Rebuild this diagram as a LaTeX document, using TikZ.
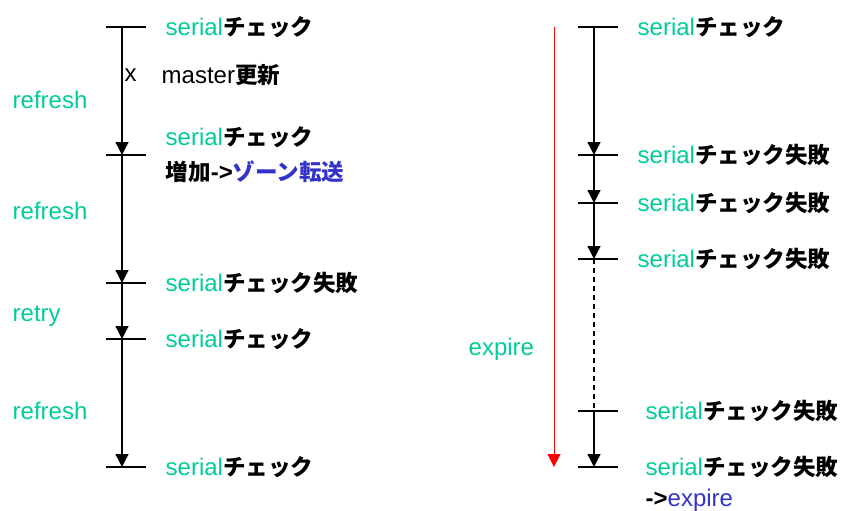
\documentclass[tikz,border=0pt]{standalone}
\usepackage{fontspec}
\setmainfont{Liberation Sans}
\newfontfamily\jpfont{Noto Sans CJK JP}[Scale=0.94]
\usetikzlibrary{arrows.meta}
\definecolor{zgreen}{RGB}{0,204,153}
\definecolor{zblue}{RGB}{51,51,204}
\newcommand{\jp}[1]{{\jpfont\bfseries #1}}
\newcommand{\ser}{\textcolor{zgreen}{serial}}

\begin{document}
\begin{tikzpicture}[x=1pt, y=-1pt, >={Triangle[width=13pt,length=13pt]}, line width=1.4pt,
  lbl/.style={anchor=west, inner sep=0pt, font=\fontsize{24}{28}\selectfont},
  phase/.style={lbl, text=zgreen}]
\useasboundingbox (0,0) rectangle (846,511);
% left time line
\coordinate (l0) at (122,27);
\coordinate (l1) at (122,155);
\coordinate (l2) at (122,283);
\coordinate (l3) at (122,339);
\coordinate (l4) at (122,467);
\foreach \t in {l0,l1,l2,l3,l4}
  \draw ([xshift=-16pt]\t.center) -- ([xshift=24pt]\t.center);
\draw[->] (l0) -- (l1);
\draw[->] (l1) -- (l2);
\draw[->] (l2) -- (l3);
\draw[->] (l3) -- (l4);
\node[lbl] (s0) at (165,27) {\ser\jp{チェック}};
\node[lbl] (xm) at (124,75) {x};
\node[lbl] (ms) at (161,75) {master\jp{更新}};
\node[lbl] (s1) at (165,137) {\ser\jp{チェック}};
\node[lbl] (zt) at (165,172) {\jp{増加}\textbf{->}\textcolor{zblue}{\jp{ゾーン転送}}};
\node[lbl] (s2) at (165,283) {\ser\jp{チェック失敗}};
\node[lbl] (s3) at (165,339) {\ser\jp{チェック}};
\node[lbl] (s4) at (165,467) {\ser\jp{チェック}};
\node[phase] (p0) at (12,100) {refresh};
\node[phase] (p1) at (12,211) {refresh};
\node[phase] (p2) at (12,316) {retry};
\node[phase] (p3) at (12,411) {refresh};
% right time line
\coordinate (r0) at (594,27);
\coordinate (r1) at (594,155);
\coordinate (r2) at (594,203);
\coordinate (r3) at (594,259);
\coordinate (r4) at (594,411);
\coordinate (r5) at (594,467);
\foreach \t in {r0,r1,r2,r3,r4,r5}
  \draw ([xshift=-16pt]\t.center) -- ([xshift=24pt]\t.center);
\draw[->] (r0) -- (r1);
\draw[->] (r1) -- (r2);
\draw[->] (r2) -- (r3);
\draw[dash pattern=on 5pt off 4pt] (r3) -- (r4);
\draw[->] (r4) -- (r5);
\node[lbl] (t0) at (637,27) {\ser\jp{チェック}};
\node[lbl] (t1) at (637,155) {\ser\jp{チェック失敗}};
\node[lbl] (t2) at (637,203) {\ser\jp{チェック失敗}};
\node[lbl] (t3) at (637,259) {\ser\jp{チェック失敗}};
\node[lbl] (t4) at (645,411) {\ser\jp{チェック失敗}};
\node[lbl] (t5) at (645,467) {\ser\jp{チェック失敗}};
\node[lbl] (ex) at (645,500) {\textbf{->}\textcolor{zblue}{expire}};
% expire span
\coordinate (e0) at (554,27);
\coordinate (e1) at (554,467);
\draw[->, red, line width=1pt] (e0) -- (e1);
\node[phase] (pe) at (468,349) {expire};
\end{tikzpicture}
\end{document}
